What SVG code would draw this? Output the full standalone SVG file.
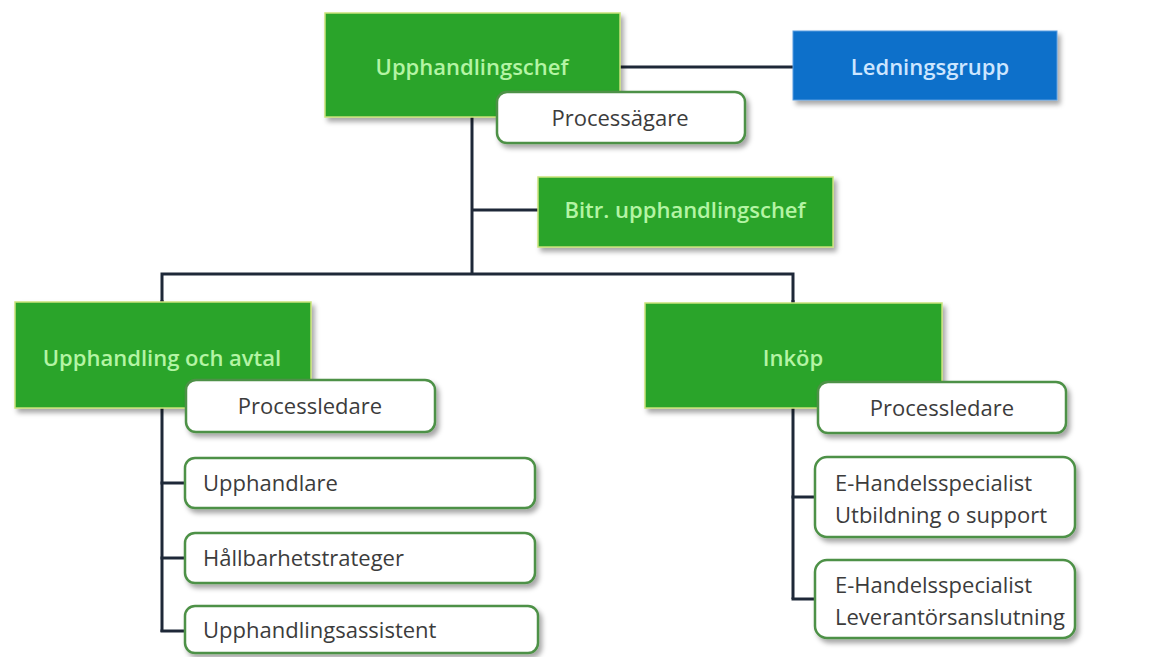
<svg xmlns="http://www.w3.org/2000/svg" width="1168" height="657" viewBox="0 0 1168 657">
  <defs>
    <filter id="sh" x="-10%" y="-20%" width="130%" height="150%">
      <feDropShadow dx="3" dy="4" stdDeviation="2.5" flood-color="#000" flood-opacity="0.35"/>
    </filter>
  </defs>
  <style>
    .conn { stroke: #1e2838; stroke-width: 3; fill: none; }
    .green { fill: #2ca42c; stroke: #c9e27a; stroke-width: 1.5; filter: url(#sh); }
    .blue { fill: #0a6fca; stroke: #5a9ee0; stroke-width: 1; filter: url(#sh); }
    .white { fill: #ffffff; stroke: #4e9147; stroke-width: 2.5; filter: url(#sh); }
    .t { font-family: "Open Sans", "Noto Sans", sans-serif; font-size: 22px; }
    .tg { fill: #b4f4a4; text-anchor: middle; font-weight: 600; }
    .tb { fill: #cde6ff; text-anchor: middle; font-weight: 600; }
    .tw { fill: #3c3c3c; }
    .c { text-anchor: middle; }
  </style>
  <rect width="1168" height="657" fill="#ffffff"/>
  <g id="connectors">
    <line class="conn" x1="620" y1="67" x2="793" y2="67"/>
    <line class="conn" x1="472" y1="117" x2="472" y2="274"/>
    <line class="conn" x1="472" y1="210" x2="538" y2="210"/>
    <polyline class="conn" points="162,302 162,274 793,274 793,303"/>
    <line class="conn" x1="162" y1="300" x2="162" y2="632"/>
    <line class="conn" x1="160.5" y1="483" x2="185" y2="483"/>
    <line class="conn" x1="160.5" y1="558" x2="185" y2="558"/>
    <line class="conn" x1="160.5" y1="631" x2="185" y2="631"/>
    <line class="conn" x1="793" y1="300" x2="793" y2="599"/>
    <line class="conn" x1="791.5" y1="497" x2="815" y2="497"/>
    <line class="conn" x1="791.5" y1="599" x2="815" y2="599"/>
  </g>
  <g id="upphandlingschef">
    <rect class="green" x="325" y="13" width="295" height="104"/>
    <text class="t tg" x="472" y="75">Upphandlingschef</text>
  </g>
  <g id="ledningsgrupp">
    <rect class="blue" x="793" y="31" width="264" height="69"/>
    <text class="t tb" x="930" y="75">Ledningsgrupp</text>
  </g>
  <g id="processagare">
    <rect class="white" x="497" y="92" width="248" height="51" rx="10"/>
    <text class="t tw c" x="620" y="126">Processägare</text>
  </g>
  <g id="bitr">
    <rect class="green" x="538" y="177" width="295" height="70"/>
    <text class="t tg" x="685" y="218">Bitr. upphandlingschef</text>
  </g>
  <g id="upphandling-och-avtal">
    <rect class="green" x="15" y="302" width="296" height="106"/>
    <text class="t tg" x="162" y="366">Upphandling och avtal</text>
  </g>
  <g id="processledare-left">
    <rect class="white" x="186" y="380" width="249" height="52" rx="10"/>
    <text class="t tw c" x="310" y="414">Processledare</text>
  </g>
  <g id="upphandlare">
    <rect class="white" x="185" y="458" width="350" height="50" rx="10"/>
    <text class="t tw" x="203" y="491">Upphandlare</text>
  </g>
  <g id="hallbarhetstrateger">
    <rect class="white" x="185" y="533" width="350" height="50" rx="10"/>
    <text class="t tw" x="203" y="566">Hållbarhetstrateger</text>
  </g>
  <g id="upphandlingsassistent">
    <rect class="white" x="185" y="606" width="353" height="47" rx="10"/>
    <text class="t tw" x="203" y="638">Upphandlingsassistent</text>
  </g>
  <g id="inkop">
    <rect class="green" x="645" y="303" width="297" height="105"/>
    <text class="t tg" x="793" y="366">Inköp</text>
  </g>
  <g id="processledare-right">
    <rect class="white" x="818" y="382" width="248" height="51" rx="10"/>
    <text class="t tw c" x="942" y="416">Processledare</text>
  </g>
  <g id="e-handel-utbildning">
    <rect class="white" x="815" y="457" width="260" height="80" rx="12"/>
    <text class="t tw" x="835" y="491">E-Handelsspecialist</text>
    <text class="t tw" x="835" y="523">Utbildning o support</text>
  </g>
  <g id="e-handel-leverantor">
    <rect class="white" x="815" y="560" width="260" height="78" rx="12"/>
    <text class="t tw" x="835" y="593">E-Handelsspecialist</text>
    <text class="t tw" x="835" y="625">Leverantörsanslutning</text>
  </g>
</svg>
